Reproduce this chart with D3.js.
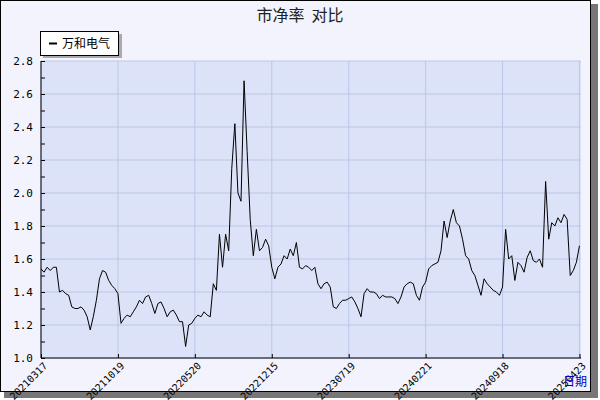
<!DOCTYPE html><html><head><meta charset="utf-8"><script src="https://cdn.jsdelivr.net/npm/d3@7"></script>
<style>body{margin:0}svg{display:block}</style></head><body><svg id="c" width="600" height="400"></svg><script>
const title="市净率  对比";
const seriesName="万和电气";
const tickLabels=["20210317","20211019","20220520","20221215","20230719","20240221","20240918","20250423"];
const values=[1.54,1.52,1.55,1.53,1.55,1.55,1.40,1.41,1.39,1.38,1.31,1.30,1.30,1.31,1.29,1.25,1.17,1.25,1.35,1.48,1.53,1.52,1.47,1.44,1.42,1.39,1.21,1.24,1.26,1.25,1.28,1.31,1.35,1.33,1.37,1.38,1.33,1.27,1.33,1.34,1.30,1.25,1.28,1.29,1.26,1.22,1.22,1.07,1.20,1.21,1.24,1.26,1.25,1.28,1.26,1.25,1.45,1.41,1.75,1.55,1.75,1.65,2.15,2.42,2.0,1.95,2.68,2.25,1.84,1.62,1.78,1.65,1.67,1.72,1.68,1.55,1.48,1.55,1.57,1.62,1.60,1.66,1.62,1.70,1.55,1.54,1.56,1.55,1.53,1.55,1.45,1.42,1.45,1.46,1.43,1.31,1.30,1.33,1.35,1.35,1.36,1.37,1.34,1.30,1.25,1.39,1.42,1.40,1.40,1.39,1.36,1.38,1.37,1.37,1.37,1.36,1.33,1.37,1.43,1.45,1.46,1.45,1.38,1.35,1.43,1.46,1.54,1.56,1.57,1.58,1.65,1.83,1.73,1.83,1.90,1.82,1.80,1.72,1.62,1.60,1.53,1.50,1.44,1.38,1.48,1.45,1.43,1.41,1.40,1.38,1.43,1.78,1.60,1.62,1.47,1.58,1.56,1.52,1.61,1.65,1.59,1.58,1.60,1.55,2.07,1.72,1.82,1.80,1.85,1.82,1.87,1.84,1.50,1.53,1.58,1.68];
const yTicks=[1.0,1.2,1.4,1.6,1.8,2.0,2.2,2.4,2.6,2.8];
const step=25;
const svg=d3.select("#c");
const L=41,R=581,T=61,B=358;
svg.append("rect").attr("x",4).attr("y",4).attr("width",594).attr("height",394).attr("fill","#777");
svg.append("rect").attr("x",0.5).attr("y",0.5).attr("width",590).attr("height",391).attr("fill","#f2f3fc").attr("stroke","#000");
const x=d3.scaleLinear().domain([0,values.length-1+0.5]).range([L,R]);
const y=d3.scaleLinear().domain([1.0,2.8]).range([B,T]);
svg.append("rect").attr("x",L).attr("y",T).attr("width",R-L).attr("height",B-T).attr("fill","#dce2f7");
const tickIdx=tickLabels.map((d,i)=>i*step);
const g=svg.append("g");
g.selectAll(".vg").data(tickIdx).join("line").attr("x1",d=>x(d)).attr("x2",d=>x(d)).attr("y1",T).attr("y2",B).attr("stroke","#bcc8e8");
g.selectAll(".hg").data(yTicks).join("line").attr("x1",L).attr("x2",R).attr("y1",d=>y(d)).attr("y2",d=>y(d)).attr("stroke","#bcc8e8");
const ya=d3.axisLeft(y).tickValues(d3.range(1.0,2.81,0.1)).tickSize(4).tickFormat(d=>Math.round(d*10)%2===0?d.toFixed(1):"");
const yg=svg.append("g").attr("transform",`translate(${L},0)`).call(ya);
yg.selectAll("line").attr("x2",4).attr("stroke","#000");
yg.selectAll("text").attr("x",-8).attr("font-family","DejaVu Sans Mono").attr("font-size",11).attr("fill","#000");
yg.select(".domain").attr("d",`M0,${T}V${B}`).attr("stroke","#000");
const xa=d3.axisBottom(x).tickValues(tickIdx).tickSize(-4).tickFormat((d,i)=>tickLabels[i]);
const xg=svg.append("g").attr("transform",`translate(0,${B})`).call(xa);
xg.select(".domain").attr("d",`M${L},0H${R}`).attr("stroke","#000");
xg.selectAll("text").attr("transform","translate(4,6) rotate(-45)").attr("text-anchor","end").attr("dy","0.35em").attr("x",0).attr("y",0)
  .attr("font-family","DejaVu Sans Mono").attr("font-size",10).attr("fill","#000");
const line=d3.line().x((d,i)=>x(i)).y(d=>y(d));
svg.append("path").datum(values).attr("d",line).attr("fill","none").attr("stroke","#000").attr("stroke-width",1);
svg.append("text").attr("x",300).attr("y",21).attr("text-anchor","middle").attr("font-family","Noto Sans CJK SC").attr("font-size",16).attr("fill","#222").style("white-space","pre").text(title);
svg.append("rect").attr("x",43).attr("y",34).attr("width",79).attr("height",24).attr("fill","#aaa");
svg.append("rect").attr("x",40.5).attr("y",31.5).attr("width",78).attr("height",24).attr("fill","#fff").attr("stroke","#000");
svg.append("line").attr("x1",49).attr("x2",57).attr("y1",43.5).attr("y2",43.5).attr("stroke","#000").attr("stroke-width",2);
svg.append("text").attr("x",62).attr("y",48).attr("font-family","Noto Sans CJK SC").attr("font-size",12).attr("fill","#000").text(seriesName);
svg.append("text").attr("x",563).attr("y",386).attr("font-family","Noto Sans CJK SC").attr("font-size",12).attr("fill","#0000cc").text("日期");
</script></body></html>
